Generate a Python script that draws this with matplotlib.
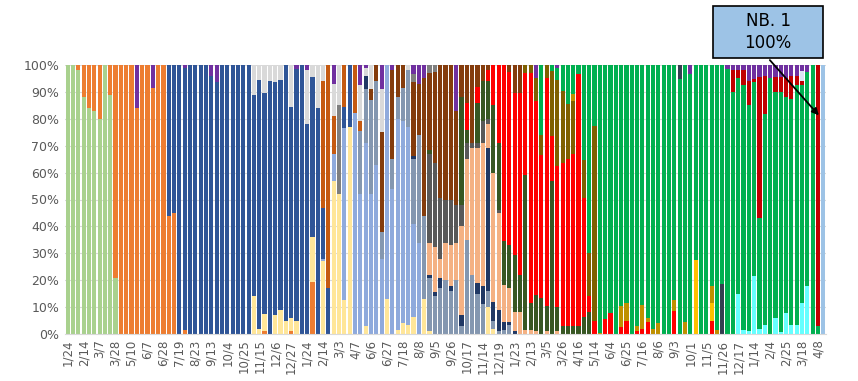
import numpy as np
import matplotlib.pyplot as plt
from matplotlib.patches import Rectangle

# weekly share of lineages (percent per bar, bottom -> top)
n_weeks = 143
tick_labels = ["1/24", "2/14", "3/7", "3/28", "5/10", "6/7", "6/28", "7/19", "8/23", "9/13",
               "10/4", "10/25", "11/15", "12/6", "12/27", "1/24", "2/14", "3/3", "4/7", "6/6",
               "6/27", "7/18", "8/8", "9/5", "9/26", "10/17", "11/14", "12/19", "1/23", "2/13",
               "3/5", "3/26", "4/16", "5/14", "6/4", "6/25", "7/16", "8/6", "9/3", "10/1",
               "11/5", "11/26", "12/17", "1/14", "2/4", "2/25", "3/18", "4/8"]

light_green = {0: 100, 1: 100, 2: 98, 3: 88, 4: 84, 5: 83, 6: 80, 7: 100, 8: 89, 9: 21}
orange = {2: 2, 3: 12, 4: 16, 5: 17, 6: 20, 8: 11, 9: 79, 10: 100, 11: 100, 12: 100, 13: 84,
          14: 100, 15: 100, 16: 91.5, 17: 100, 18: 100, 19: 44, 20: 45, 22: 1.5, 37: 1, 42: 1,
          46: 19.5}
yellow = {35: 14, 36: 2, 37: 6.5, 39: 7, 40: 9, 41: 5, 42: 5, 43: 5, 46: 16.5, 48: 27, 50: 57,
          51: 52, 52: 12.5, 53: 77, 56: 3, 60: 13, 62: 1.5, 63: 4, 64: 3.5, 65: 6.5, 67: 13,
          68: 1, 79: 10, 80: 2}
light_blue = {48: 1, 50: 10, 52: 64, 54: 82, 55: 52, 56: 68, 57: 52, 58: 63, 59: 28, 60: 87,
              61: 54, 62: 78.5, 63: 75, 64: 73.5, 65: 34.5, 66: 34}
gray_blue = {55: 23.5, 56: 20, 57: 35, 58: 31, 59: 10, 61: 11, 62: 8, 63: 12.5, 64: 21, 65: 24,
             66: 40, 67: 31, 68: 20, 69: 14, 70: 17, 71: 20, 72: 16, 73: 20, 74: 3, 75: 35,
             76: 22, 77: 15, 78: 11, 79: 6, 80: 3, 81: 1, 82: 1.6, 83: 3.5}
blue = {19: 56, 20: 55, 21: 100, 22: 97.5, 23: 100, 24: 100, 25: 100, 26: 100, 27: 96, 28: 93.5,
        29: 100, 30: 100, 31: 100, 32: 100, 33: 100, 34: 100, 35: 75, 36: 92.5, 37: 82, 38: 94,
        39: 86.5, 40: 85.5, 41: 95, 42: 78.5, 43: 93.5, 44: 100, 45: 78, 46: 59.5, 47: 84,
        48: 19, 49: 17, 52: 8, 53: 23}
navy = {56: 5, 65: 1, 68: 1, 69: 1.5, 70: 4, 72: 2, 74: 4, 77: 4, 78: 7, 79: 53, 80: 7, 81: 8,
        82: 3, 83: 1, 84: 1}
peach = {68: 12, 69: 17, 70: 7, 71: 14, 72: 15, 73: 14, 74: 33, 75: 30, 76: 47, 77: 50, 78: 53,
         79: 9, 80: 48, 81: 36, 82: 13.5, 83: 12.5, 84: 7, 85: 8, 86: 1.5, 87: 1.6, 88: 1,
         90: 1, 92: 1}
dark_gray = {68: 33, 69: 31, 70: 22.5, 71: 16, 72: 17, 73: 14, 74: 8, 75: 6, 76: 2, 77: 2,
             78: 8, 79: 2, 81: 1}
dark_green = {68: 1.5, 74: 40, 75: 5, 77: 15, 78: 15, 79: 14, 80: 25, 81: 25, 82: 16.5, 83: 16,
              84: 21.5, 85: 14, 86: 57.5, 87: 10, 88: 13.5, 89: 13.4, 90: 9.5, 91: 56.8, 92: 9,
              93: 3, 94: 3, 95: 2.8, 96: 3, 97: 6.5, 98: 8}
dark_orange = {48: 47, 49: 83, 50: 14, 52: 15.5, 54: 18, 55: 3.5}
cyan = {126: 15, 127: 1.5, 128: 1, 129: 21.5, 130: 2, 131: 3.5, 133: 6, 134: 0.8, 135: 7.8,
        136: 3.5, 137: 3.5, 138: 11.5, 139: 17.7}
red = {75: 10, 77: 6, 79: 4, 80: 15, 81: 29, 82: 65.4, 83: 64.5, 84: 60, 85: 67.5, 86: 38,
       87: 85.4, 88: 72, 89: 53.3, 90: 84.5, 91: 16.7, 92: 52.3, 93: 60.5, 94: 62, 95: 64,
       96: 93.5, 97: 44, 98: 6, 99: 4.7, 101: 5.5, 102: 7.7, 104: 2.5, 105: 5, 107: 1, 108: 2,
       109: 4.5, 114: 8.4, 121: 4.7}
brown = {57: 4, 58: 6, 59: 37, 61: 33, 62: 12, 63: 8.5, 65: 27.5, 66: 19, 67: 51, 68: 28.5,
         69: 34, 70: 49.5, 71: 50, 72: 50, 73: 35, 74: 12, 75: 14, 76: 29, 77: 8, 78: 6, 79: 2,
         83: 2.5, 84: 10.5, 85: 10.5}
mid_gray = {51: 33, 65: 3, 68: 3, 69: 2.5}
olive = {86: 3, 87: 3, 88: 8.5, 89: 7.4, 90: 5, 91: 24.1, 92: 32.2, 93: 27, 94: 20.5, 95: 20,
         97: 14, 98: 16, 99: 72.5}
amber = {118: 27.6, 121: 6.8}
gold = {95: 2.5, 100: 0.5, 104: 8, 105: 6.5, 107: 2, 108: 8.7, 109: 1.5, 110: 2, 111: 4,
        114: 4.3, 116: 4.5, 121: 6.2, 122: 1.6}
slate_low = {123: 18.6}
green = {89: 25.9, 91: 2.4, 92: 4.5, 93: 9.5, 94: 14.5, 95: 10.7, 96: 3.5, 97: 35.5, 98: 70,
         99: 22.8, 100: 99.5, 101: 94.5, 102: 92.3, 103: 100, 104: 89.5, 105: 88.5, 106: 100,
         107: 97, 108: 89.3, 109: 94, 110: 98, 111: 96, 112: 100, 113: 100, 114: 87.3,
         115: 94.7, 116: 95.5, 117: 96.8, 118: 72.4, 119: 100, 120: 100, 121: 82.3, 122: 98.4,
         123: 81.4, 124: 98.5, 125: 90, 126: 80, 127: 91, 128: 84, 129: 72.3, 130: 41,
         131: 78.3, 132: 95, 133: 84, 134: 89.2, 135: 80.2, 136: 84, 137: 89, 138: 81,
         139: 79.8, 140: 100, 141: 2.8}
slate_top = {115: 5.3}
dark_red = {125: 8, 126: 3, 127: 5.5, 128: 9, 129: 1, 130: 52.5, 131: 14, 133: 5.6, 134: 5.5,
            135: 7.3, 136: 8.5, 137: 3.5, 138: 1.5, 141: 97.2}
pale = {138: 3.8}
light_gray = {35: 11, 36: 5.5, 37: 10.5, 38: 6, 39: 6.5, 40: 5.5, 42: 15.5, 45: 20, 46: 4.5,
              47: 16, 48: 6, 50: 12, 51: 15, 55: 13.5, 56: 3, 57: 9, 59: 16, 64: 2}
purple = {13: 16, 16: 8.5, 22: 1, 27: 4, 28: 6.5, 43: 1.5, 45: 2, 50: 7, 55: 7.5, 56: 1, 59: 9,
          61: 2, 65: 3.5, 66: 7, 67: 5, 73: 17, 88: 5, 92: 1, 117: 3.2, 124: 1.5, 125: 2,
          126: 2, 127: 2, 128: 6, 129: 5.2, 130: 4.5, 131: 4.2, 132: 5, 133: 4.4, 134: 4.5,
          135: 4.7, 136: 4, 137: 4, 138: 2.2, 139: 2.5}
nb1 = {142: 100}

series = [
    (light_green, "#A9D18E"), (orange, "#ED7D31"), (yellow, "#FFE699"),
    (light_blue, "#8FAADC"), (gray_blue, "#8497B0"), (blue, "#2F5597"),
    (navy, "#203864"), (peach, "#F4B183"), (dark_gray, "#595959"),
    (dark_green, "#385723"), (dark_orange, "#C55A11"), (cyan, "#66FFFF"),
    (red, "#FF0000"), (brown, "#843C0C"), (mid_gray, "#7F7F7F"),
    (olive, "#7F6000"), (amber, "#FFC000"), (gold, "#BF9000"),
    (slate_low, "#333F50"), (green, "#00B050"), (slate_top, "#333F50"),
    (dark_red, "#C00000"), (pale, "#DAE3F3"), (light_gray, "#D9D9D9"),
    (purple, "#7030A0"), (nb1, "#9DC3E6"),
]

x = np.arange(n_weeks)
table = np.zeros((len(series), n_weeks))
for k, (vals, _) in enumerate(series):
    for i, v in vals.items():
        table[k, i] = v
table = table / table.sum(axis=0) * 100

fig = plt.figure(figsize=(8.58, 3.81), dpi=100)
ax = fig.add_axes([65 / 858, 47 / 381, 761 / 858, 269 / 381])

bottom = np.zeros(n_weeks)
for k, (_, color) in enumerate(series):
    ax.bar(x, table[k], bottom=bottom, width=0.78, color=color, linewidth=0, zorder=2)
    bottom += table[k]

ax.set_xlim(-0.5, n_weeks - 0.5)
ax.set_ylim(0, 100)
ax.set_yticks(np.arange(0, 101, 10))
ax.set_yticklabels([f"{v}%" for v in range(0, 101, 10)], fontsize=9, color="#595959")
ax.set_xticks(x[::3])
ax.set_xticklabels(tick_labels, rotation=90, fontsize=8.5, color="#595959")
ax.tick_params(length=0, pad=4)
ax.yaxis.grid(True, color="#D9D9D9", linewidth=0.8, zorder=0)
ax.set_axisbelow(True)
for s in ["top", "left", "right"]:
    ax.spines[s].set_visible(False)
ax.spines["bottom"].set_color("#D9D9D9")

# callout box for the last week
fig.patches.append(Rectangle((713 / 858, 1 - 58 / 381), 110 / 858, 52 / 381,
                             transform=fig.transFigure, facecolor="#9DC3E6",
                             edgecolor="black", linewidth=1.2, zorder=5))
fig.text(768 / 858, 1 - 32 / 381, "NB. 1\n100%", ha="center", va="center",
         fontsize=12, linespacing=1.25, zorder=6)
ax.annotate("", xy=(n_weeks - 1.5, 80.5), xycoords="data",
            xytext=(768 / 858, 1 - 58 / 381), textcoords="figure fraction",
            arrowprops=dict(arrowstyle="-|>", color="black", lw=1.3, mutation_scale=10),
            annotation_clip=False, zorder=6)

plt.savefig("out.png", dpi=100)
